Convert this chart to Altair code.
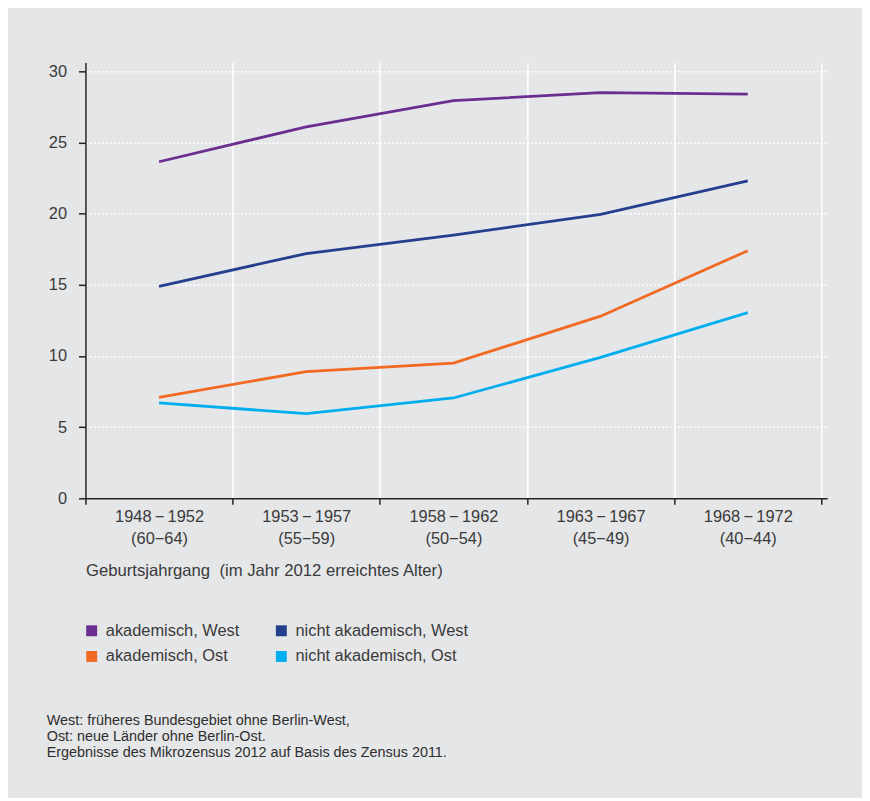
import altair as alt
import pandas as pd

cohorts = ["1948\u2009−\u20091952", "1953\u2009−\u20091957", "1958\u2009−\u20091962", "1963\u2009−\u20091967", "1968\u2009−\u20091972"]
ages = ["(60−64)", "(55−59)", "(50−54)", "(45−49)", "(40−44)"]
series = ["akademisch, West", "nicht akademisch, West", "akademisch, Ost", "nicht akademisch, Ost"]
colors = ["#6b2d90", "#253f8e", "#f26a21", "#00aeef"]
akad_west = [23.65, 26.1, 27.95, 28.5, 28.4]
nicht_west = [14.9, 17.2, 18.5, 19.95, 22.3]
akad_ost = [7.1, 8.9, 9.5, 12.8, 17.4]
nicht_ost = [6.7, 5.95, 7.05, 9.9, 13.05]
footnote = [
    "West: früheres Bundesgebiet ohne Berlin-West,",
    "Ost: neue Länder ohne Berlin-Ost.",
    "Ergebnisse des Mikrozensus 2012 auf Basis des Zensus 2011.",
]

labels = [f"{c}|{a}" for c, a in zip(cohorts, ages)]
rows = []
for name, vals in zip(series, [akad_west, nicht_west, akad_ost, nicht_ost]):
    for lab, v in zip(labels, vals):
        rows.append({"cohort": lab, "series": name, "value": v})
df = pd.DataFrame(rows)

# legend is laid out column by column: West column first, then Ost
legend_order = [series[0], series[2], series[1], series[3]]
legend_colors = [colors[0], colors[2], colors[1], colors[3]]

FONT = "Liberation Sans"
TXT = "#3a3a3a"

x = alt.X(
    "cohort:N",
    sort=labels,
    bandPosition=0.5,
    scale=alt.Scale(type="band", paddingInner=0, paddingOuter=0.02, align=0),
    axis=alt.Axis(
        tickBand="extent",
        labelAngle=0,
        labelExpr="split(datum.label, '|')",
        labelFontSize=16.5,
        labelLineHeight=23,
        labelColor=TXT,
        labelFont=FONT,
        labelPadding=4,
        tickSize=6,
        tickColor="#222222",
        tickWidth=1.5,
        domainColor="#222222",
        domainWidth=1.5,
        grid=True,
        gridColor="white",
        gridWidth=1.5,
        title="Geburtsjahrgang\u00a0 (im Jahr 2012 erreichtes Alter)",
        titleFont=FONT,
        titleFontSize=16.8,
        titleFontWeight="normal",
        titleColor=TXT,
        titleAnchor="start",
        titleAlign="left",
        titleBaseline="alphabetic",
        titleX=0,
        titleY=78,
    ),
)

y = alt.Y(
    "value:Q",
    scale=alt.Scale(domain=[0, 30.63], nice=False),
    axis=alt.Axis(
        values=[0, 5, 10, 15, 20, 25, 30],
        title=None,
        labelFontSize=16.5,
        labelColor=TXT,
        labelFont=FONT,
        labelPadding=12,
        tickSize=7,
        tickColor="#222222",
        tickWidth=1.5,
        domainColor="#222222",
        domainWidth=1.5,
        grid=True,
        gridColor="white",
        gridWidth=1.6,
        gridDash=[2, 2],
    ),
)

lines = alt.Chart(df).mark_line(strokeWidth=2.8).encode(
    x=x,
    y=y,
    stroke=alt.Stroke("series:N", scale=alt.Scale(domain=series, range=colors), legend=None),
)

legend_layer = (
    alt.Chart(df)
    .transform_calculate(gruppe="datum.series")
    .mark_square(filled=True, opacity=0, size=1)
    .encode(
        x=alt.X("cohort:N", sort=labels, bandPosition=0.5),
        y=alt.Y("value:Q"),
        fill=alt.Fill(
            "gruppe:N",
            scale=alt.Scale(domain=legend_order, range=legend_colors),
            legend=alt.Legend(
                orient="none",
                legendX=-2,
                legendY=564,
                columns=2,
                title=None,
                symbolType="square",
                symbolSize=121,
                symbolStrokeWidth=0,
                symbolOpacity=1,
                labelFontSize=16.5,
                labelFont=FONT,
                labelColor=TXT,
                labelOffset=6,
                labelLimit=400,
                columnPadding=34,
                rowPadding=9,
            ),
        ),
    )
)

note = alt.Chart(pd.DataFrame({"k": [0]})).mark_text(
    text=footnote,
    align="left",
    baseline="alphabetic",
    fontSize=14.5,
    lineHeight=16,
    font=FONT,
    color="#2e2e2e",
).encode(x=alt.value(-39), y=alt.value(667.7))

chart = (
    alt.layer(lines, legend_layer, note)
    .resolve_scale(fill="independent", stroke="independent")
    .properties(
        width=747,
        height=439,
        autosize=alt.AutoSizeParams(type="none"),
        padding={"left": 78, "top": 52, "right": 35, "bottom": 299},
        background="#e5e6e8",
    )
    .configure_view(stroke=None)
)

chart.save("out.html", embed_options={"renderer": "svg", "actions": False})
